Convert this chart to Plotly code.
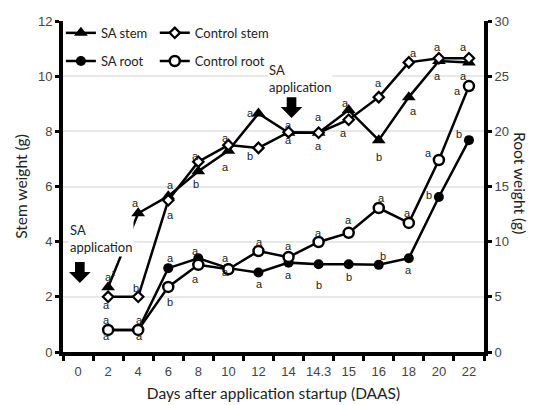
import plotly.graph_objects as go

days = ["0", "2", "4", "6", "8", "10", "12", "14", "14.3", "15", "16", "18", "20", "22"]
x_days = days[1:]
sa_stem = [2.35, 5.03, 5.65, 6.55, 7.3, 8.65, 7.95, 7.95, 8.77, 7.68, 9.24, 10.55, 10.5]
ctrl_stem = [2.0, 2.0, 5.5, 6.9, 7.5, 7.4, 7.97, 7.95, 8.42, 9.24, 10.5, 10.65, 10.65]
sa_root = [2.0, 2.0, 7.6, 8.5, 7.6, 7.2, 8.1, 7.95, 7.95, 7.9, 8.5, 14.05, 19.2]
ctrl_root = [2.0, 2.0, 5.9, 7.9, 7.5, 9.15, 8.6, 9.97, 10.8, 13.05, 11.7, 17.4, 24.1]

# significance letters: (text, category index, stem-axis value)
letter_text = ["a<sup>1</sup>", "a", "a", "a", "a", "a", "a", "b",
               "a", "a", "a", "b", "a", "b", "a", "a",
               "a", "a", "a", "a", "a", "b", "a", "a",
               "a", "a", "a", "a", "a", "a", "a", "b",
               "a", "a", "a", "b", "a", "b", "a", "b",
               "a", "a", "a", "a", "a", "a", "a", "b",
               "a", "a", "a", "b"]
letter_x = [1.05, 0.96, 0.96, 0.96, 2.06, 2.06, 1.9, 1.93,
            3.06, 3.06, 3.06, 3.06, 3.89, 3.92, 3.89, 3.89,
            4.89, 4.89, 4.89, 4.89, 5.72, 5.72, 6.05, 6.05,
            7.01, 7.01, 7.01, 7.01, 8.01, 8.01, 8.01, 8.01,
            8.88, 8.84, 9.01, 9.01, 10.0, 10.0, 10.1, 10.14,
            11.14, 11.14, 10.94, 11.0, 11.97, 11.97, 11.67, 11.67,
            12.83, 12.83, 12.63, 12.67]
letter_y = [2.76, 1.70, 1.16, 0.58, 1.16, 0.58, 5.40, 2.32,
            6.05, 4.97, 3.41, 1.81, 7.11, 6.09, 3.66, 2.65,
            7.76, 6.71, 3.41, 2.90, 8.67, 7.11, 3.99, 2.47,
            8.23, 7.69, 3.84, 2.79, 8.52, 7.47, 4.31, 2.43,
            9.03, 7.94, 4.79, 2.72, 9.75, 7.07, 5.58, 3.48,
            10.84, 8.74, 5.04, 2.97, 11.06, 10.01, 7.22, 5.69,
            11.06, 10.01, 9.46, 7.90]

fig = go.Figure()
line = dict(color="black", width=2.5)
fig.add_trace(go.Scatter(x=x_days, y=sa_stem, name="SA stem", mode="lines+markers",
                         line=line, marker=dict(symbol="triangle-up", size=12, color="black"),
                         legend="legend"))
fig.add_trace(go.Scatter(x=x_days, y=ctrl_stem, name="Control stem", mode="lines+markers",
                         line=line, marker=dict(symbol="diamond", size=8, color="white",
                                                line=dict(color="black", width=2.2)),
                         legend="legend2"))
fig.add_trace(go.Scatter(x=x_days, y=sa_root, name="SA root", mode="lines+markers", yaxis="y2",
                         line=line, marker=dict(symbol="circle", size=10, color="black"),
                         legend="legend3"))
fig.add_trace(go.Scatter(x=x_days, y=ctrl_root, name="Control root", mode="lines+markers", yaxis="y2",
                         line=line, marker=dict(symbol="circle", size=10, color="white",
                                                line=dict(color="black", width=2.5)),
                         legend="legend4"))

tickfont = dict(family="Liberation Sans, Arial", size=13, color="#444")
titlefont = dict(family="Lato", size=15.5, color="#222")

anns = []
for t, xx, yy in zip(letter_text, letter_x, letter_y):
    anns.append(dict(x=xx, y=yy, xref="x", yref="y", text=t, showarrow=False,
                     font=dict(family="Liberation Sans, Arial", size=11, color="#222")))
anns.append(dict(x=0.78, y=4.1, xref="x", yref="y", text="SA<br>application", align="left",
                 showarrow=False, bgcolor="white",
                 font=dict(family="Lato", size=13, color="#222")))
anns.append(dict(x=7.38, y=9.9, xref="x", yref="y", text="SA<br>application", align="left",
                 showarrow=False, bgcolor="white",
                 font=dict(family="Lato", size=13, color="#222")))
anns.append(dict(x=1.112, y=0.51, xref="paper", yref="paper", text="Root weight (g)",
                 textangle=90, showarrow=False, font=titlefont))


def arrow(cx, top, base, tip):
    s, h = 0.16, 0.36
    return (f"M {cx - s} {top} L {cx + s} {top} L {cx + s} {base} L {cx + h} {base} "
            f"L {cx} {tip} L {cx - h} {base} L {cx - s} {base} Z")


shapes = [
    dict(type="path", xref="x", yref="y", path=arrow(0.06, 3.26, 2.9, 2.5),
         fillcolor="black", line=dict(width=0)),
    dict(type="path", xref="x", yref="y", path=arrow(7.1, 9.24, 8.88, 8.48),
         fillcolor="black", line=dict(width=0)),
]

legfont = dict(family="Lato", size=13, color="#222")
legbase = dict(orientation="h", xanchor="left", yanchor="middle", bgcolor="rgba(0,0,0,0)",
               font=legfont, itemwidth=30)

fig.update_layout(
    width=535, height=405,
    margin=dict(l=55, r=59, t=13, b=61, autoexpand=False),
    paper_bgcolor="white", plot_bgcolor="white",
    showlegend=True,
    legend=dict(legbase, x=-0.005, y=0.964),
    legend2=dict(legbase, x=0.218, y=0.964),
    legend3=dict(legbase, x=-0.005, y=0.879),
    legend4=dict(legbase, x=0.218, y=0.879),
    xaxis=dict(type="category", categoryorder="array", categoryarray=days,
               range=[-0.5, 13.5], tickson="boundaries", ticks="outside", ticklen=5,
               tickwidth=3, tickcolor="black", showline=True, linewidth=4, linecolor="black",
               showgrid=False, tickfont=tickfont, tickangle=0, ticklabelstandoff=4,
               title=dict(text="Days after application startup (DAAS)", font=titlefont, standoff=12)),
    yaxis=dict(range=[0, 12], dtick=2, ticks="outside", ticklen=4, tickwidth=3, tickcolor="black",
               showline=True, linewidth=4, linecolor="black", gridcolor="#e8e8e8", gridwidth=1.5,
               zeroline=False, tickfont=tickfont,
               title=dict(text="Stem weight (g)", font=titlefont, standoff=8)),
    yaxis2=dict(range=[0, 30], dtick=5, overlaying="y", side="right", ticks="outside", ticklen=4,
                tickwidth=3, tickcolor="black", showline=True, linewidth=4, linecolor="black",
                showgrid=False, zeroline=False, tickfont=tickfont),
    annotations=anns,
    shapes=shapes,
)

fig.write_html("out.html")
